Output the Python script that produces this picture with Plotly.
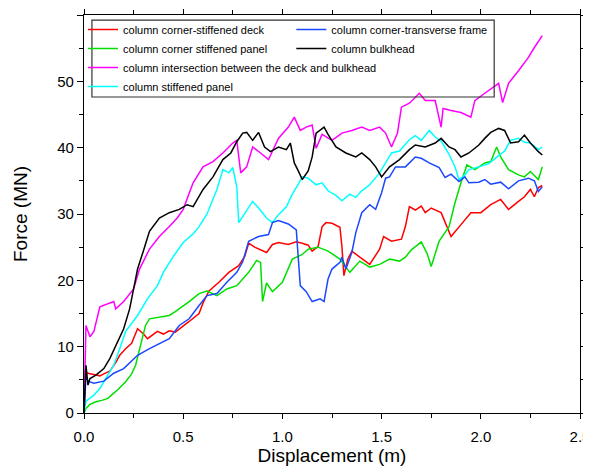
import plotly.graph_objects as go

# ---------------- data ----------------
red_x = [0, 0.005, 0.013, 0.03, 0.05, 0.08, 0.10, 0.13, 0.16, 0.18, 0.21, 0.24, 0.27, 0.30, 0.32, 0.35, 0.37, 0.40, 0.43, 0.46,
         0.48, 0.53, 0.58, 0.60, 0.63, 0.68, 0.73, 0.78, 0.81, 0.83, 0.86, 0.88, 0.92, 0.95, 0.98, 1.03, 1.07, 1.10, 1.13, 1.15,
         1.18, 1.20, 1.22, 1.25, 1.29, 1.30, 1.31, 1.33, 1.35, 1.39, 1.44, 1.49, 1.51, 1.55, 1.60, 1.62, 1.64, 1.67, 1.70, 1.72,
         1.75, 1.80, 1.84, 1.85, 1.90, 1.95, 2.00, 2.05, 2.10, 2.14, 2.19, 2.22, 2.25, 2.27, 2.29, 2.31]
red_y = [0, 6.5, 6.1, 5.9, 5.8, 5.6, 5.9, 6.3, 7.6, 8.7, 9.7, 10.5, 12.7, 11.9, 11.2, 11.8, 12.3, 11.9, 12.4, 12.2,
         12.7, 13.8, 15.0, 16.6, 18.4, 19.7, 21.2, 22.2, 23.6, 25.6, 25.0, 24.7, 24.2, 25.4, 25.7, 25.4, 25.8, 25.6, 25.3, 24.4,
         25.1, 28.1, 28.7, 28.6, 28.0, 25.1, 20.7, 23.2, 24.4, 23.5, 22.4, 24.7, 26.6, 25.9, 26.2, 28.1, 31.1, 30.6, 31.2, 30.2,
         30.9, 30.2, 27.2, 26.6, 28.4, 30.2, 30.2, 31.4, 32.2, 30.7, 31.9, 32.6, 33.7, 32.6, 34.0, 34.3]

green_x = [0, 0.01, 0.03, 0.06, 0.09, 0.12, 0.15, 0.17, 0.21, 0.24, 0.26, 0.28, 0.30, 0.31, 0.33, 0.38, 0.43, 0.46, 0.48, 0.53,
           0.58, 0.62, 0.67, 0.72, 0.77, 0.80, 0.83, 0.87, 0.89, 0.90, 0.92, 0.95, 1.00, 1.05, 1.10, 1.13, 1.18, 1.23, 1.29, 1.34,
           1.39, 1.44, 1.49, 1.54, 1.59, 1.62, 1.65, 1.70, 1.73, 1.75, 1.79, 1.84, 1.87, 1.90, 1.93, 1.97, 2.02, 2.05, 2.08, 2.10,
           2.14, 2.19, 2.22, 2.25, 2.29, 2.31]
green_y = [0, 0.7, 1.3, 1.7, 1.9, 2.2, 3.0, 3.5, 4.7, 5.9, 7.2, 9.7, 12.0, 13.2, 14.2, 14.5, 14.7, 15.3, 15.7, 16.8,
           18.0, 18.4, 17.7, 18.7, 19.2, 20.2, 21.2, 23.0, 22.7, 16.8, 19.6, 18.3, 19.7, 23.2, 23.9, 24.7, 25.0, 24.4, 23.2, 21.2,
           22.9, 22.0, 22.4, 23.2, 22.9, 23.5, 24.6, 25.8, 24.0, 22.1, 25.9, 28.1, 31.7, 34.7, 37.4, 36.7, 37.7, 37.9, 40.1, 38.6,
           36.7, 35.9, 35.6, 36.4, 35.2, 37.1]

blue_x = [0, 0.01, 0.02, 0.05, 0.10, 0.15, 0.20, 0.27, 0.33, 0.38, 0.43, 0.48, 0.53, 0.58, 0.62, 0.67, 0.72, 0.77, 0.80, 0.83,
          0.88, 0.93, 0.95, 0.98, 1.03, 1.07, 1.08, 1.09, 1.12, 1.15, 1.19, 1.21, 1.23, 1.25, 1.29, 1.30, 1.32, 1.35, 1.37, 1.40,
          1.44, 1.47, 1.50, 1.52, 1.54, 1.57, 1.62, 1.67, 1.70, 1.74, 1.79, 1.82, 1.85, 1.89, 1.92, 1.94, 1.99, 2.02, 2.05, 2.10,
          2.14, 2.19, 2.24, 2.27, 2.29, 2.31]
blue_y = [0, 5.5, 4.8, 4.5, 4.8, 6.0, 6.7, 8.7, 9.7, 10.5, 11.2, 13.2, 14.2, 16.2, 17.7, 18.0, 19.7, 21.2, 22.8, 25.9,
          26.6, 26.9, 28.7, 29.0, 28.5, 27.6, 24.0, 19.2, 18.3, 16.8, 17.2, 16.8, 20.2, 21.7, 22.7, 23.5, 21.7, 24.2, 27.2, 30.2,
          31.4, 30.7, 33.2, 35.4, 35.6, 37.1, 37.1, 38.6, 38.4, 37.7, 37.0, 35.5, 36.0, 34.9, 35.6, 34.7, 34.8, 35.2, 34.5, 34.8,
          33.8, 35.0, 35.4, 35.0, 33.4, 34.1]

black_x = [0, 0.01, 0.02, 0.03, 0.06, 0.10, 0.13, 0.16, 0.20, 0.23, 0.27, 0.30, 0.33, 0.38, 0.43, 0.48, 0.52, 0.55, 0.60, 0.65,
           0.70, 0.74, 0.77, 0.80, 0.82, 0.85, 0.88, 0.91, 0.94, 0.98, 1.02, 1.04, 1.06, 1.08, 1.10, 1.13, 1.15, 1.17, 1.21, 1.23,
           1.27, 1.32, 1.37, 1.40, 1.44, 1.47, 1.50, 1.54, 1.59, 1.64, 1.67, 1.72, 1.77, 1.80, 1.84, 1.87, 1.90, 1.94, 1.99, 2.02,
           2.05, 2.09, 2.12, 2.15, 2.19, 2.22, 2.25, 2.29, 2.31]
black_y = [0, 7.2, 4.2, 5.2, 5.7, 6.7, 8.2, 10.2, 12.7, 15.7, 21.7, 24.5, 27.4, 29.4, 30.2, 30.7, 31.4, 31.1, 33.7, 35.6,
           38.2, 39.2, 40.9, 42.2, 42.3, 41.1, 42.3, 40.1, 39.4, 40.1, 39.7, 40.7, 37.7, 36.5, 35.2, 36.5, 38.6, 42.2, 43.1, 42.0,
           40.1, 39.2, 38.6, 39.2, 38.2, 37.1, 35.6, 37.1, 38.2, 39.7, 40.4, 40.1, 40.7, 41.4, 40.1, 39.7, 38.6, 39.2, 40.4, 41.4,
           42.3, 42.9, 42.6, 40.7, 40.9, 41.9, 40.7, 39.4, 38.9]

magenta_x = [0, 0.005, 0.01, 0.03, 0.05, 0.08, 0.12, 0.15, 0.16, 0.20, 0.25, 0.28, 0.33, 0.38, 0.43, 0.47, 0.50, 0.52, 0.55, 0.60,
             0.65, 0.70, 0.75, 0.77, 0.79, 0.82, 0.85, 0.89, 0.93, 0.98, 1.03, 1.06, 1.09, 1.12, 1.15, 1.17, 1.20, 1.25, 1.30, 1.35,
             1.40, 1.44, 1.49, 1.52, 1.55, 1.58, 1.60, 1.64, 1.69, 1.72, 1.77, 1.80, 1.81, 1.85, 1.90, 1.95, 1.97, 2.02, 2.05, 2.09,
             2.11, 2.14, 2.19, 2.24, 2.27, 2.30, 2.31]
magenta_y = [0, 6.0, 13.2, 11.5, 12.3, 16.0, 16.5, 16.8, 15.7, 16.8, 18.7, 21.7, 24.7, 26.6, 28.1, 29.4, 30.7, 32.2, 34.7, 37.1,
             37.9, 39.2, 40.7, 41.1, 36.2, 37.1, 40.1, 39.2, 38.2, 41.4, 43.1, 44.6, 42.6, 43.1, 43.4, 39.9, 42.0, 41.1, 42.2, 42.6,
             43.1, 42.6, 43.1, 42.2, 40.1, 42.2, 46.1, 46.7, 48.2, 47.1, 47.1, 43.1, 45.9, 45.6, 45.3, 44.6, 47.1, 48.2, 48.9, 49.7,
             46.8, 49.7, 51.6, 53.6, 55.1, 56.6, 56.9]

cyan_x = [0, 0.01, 0.05, 0.08, 0.12, 0.15, 0.18, 0.21, 0.27, 0.32, 0.37, 0.40, 0.45, 0.50, 0.55, 0.58, 0.62, 0.67, 0.70, 0.73,
          0.75, 0.77, 0.78, 0.82, 0.85, 0.88, 0.92, 0.95, 0.98, 1.02, 1.05, 1.08, 1.10, 1.13, 1.17, 1.20, 1.23, 1.27, 1.30, 1.34,
          1.37, 1.40, 1.44, 1.49, 1.52, 1.55, 1.59, 1.64, 1.67, 1.70, 1.74, 1.77, 1.80, 1.84, 1.87, 1.89, 1.92, 1.94, 1.99, 2.04,
          2.09, 2.12, 2.15, 2.19, 2.22, 2.25, 2.29, 2.31]
cyan_y = [0, 1.8, 2.7, 3.7, 5.7, 7.2, 9.7, 12.3, 14.7, 17.2, 19.2, 21.2, 23.6, 25.7, 27.0, 28.1, 30.0, 33.7, 36.7, 36.2,
          37.0, 34.1, 28.7, 30.5, 31.9, 30.9, 29.4, 28.7, 29.9, 31.1, 33.0, 34.5, 35.6, 35.4, 34.4, 34.7, 33.5, 32.8, 32.0, 33.0,
          32.5, 33.5, 34.4, 36.2, 37.7, 39.2, 39.5, 41.2, 41.8, 41.1, 42.6, 41.6, 41.0, 39.0, 37.1, 35.2, 35.9, 36.7, 37.1, 37.6,
          38.8, 39.5, 41.1, 41.4, 40.8, 40.7, 39.7, 40.1]

x_ticks = [0.0, 0.5, 1.0, 1.5, 2.0, 2.5]
x_ticklabels = ["0.0", "0.5", "1.0", "1.5", "2.0", "2.5"]
y_ticks = [0, 10, 20, 30, 40, 50, 60]

# ---------------- figure ----------------
FONT = "Liberation Sans, Arial, sans-serif"
series = [
    ("column corner-stiffened deck", red_x, red_y, "#ff0000", "legend"),
    ("column corner stiffened panel", green_x, green_y, "#00e000", "legend"),
    ("column intersection between the deck and bulkhead", magenta_x, magenta_y, "#ff00ff", "legend"),
    ("column stiffened panel", cyan_x, cyan_y, "#00ffff", "legend"),
    ("column corner-transverse frame", blue_x, blue_y, "#1a48ff", "legend2"),
    ("column bulkhead", black_x, black_y, "#000000", "legend2"),
]

fig = go.Figure()
for name, xs, ys, col, lg in series:
    fig.add_trace(go.Scatter(x=xs, y=ys, mode="lines", name=name,
                             line=dict(color=col, width=1.5), legend=lg))

tick_style = dict(tickcolor="black", tickwidth=1.2)
axis_common = dict(showgrid=False, zeroline=False, linecolor="black", linewidth=1.3,
                   automargin=False, showline=True, mirror="ticks", **tick_style)
label_font = dict(family=FONT, size=15, color="black")

# the page body has an 8 px margin on every side, so the figure is 16 px smaller
# than the 591x474 window (this keeps the page from overflowing)
fig.update_layout(
    width=575, height=458,
    margin=dict(l=76, r=3, t=7, b=53),
    paper_bgcolor="white", plot_bgcolor="white",
    font=dict(family=FONT, color="black"),
    xaxis=dict(range=[0, 2.5], tickvals=x_ticks, ticktext=x_ticklabels,
               ticks="outside", ticklen=5, tickfont=label_font, ticklabelstandoff=5,
               ticklabeloverflow="allow",
               minor=dict(dtick=0.25, ticklen=4, ticks="outside", **tick_style),
               title=dict(text="Displacement (m)", font=dict(family=FONT, size=19), standoff=10),
               **axis_common),
    yaxis=dict(range=[0, 60], tickvals=y_ticks, ticks="outside", ticklen=6, tickfont=label_font,
               minor=dict(dtick=5, ticklen=4, ticks="outside", **tick_style),
               title=dict(text="Force (MN)", font=dict(family=FONT, size=19), standoff=24),
               **axis_common),
    legend=dict(x=-0.002, y=1.0, xanchor="left", yanchor="top", bgcolor="rgba(0,0,0,0)",
                borderwidth=0, font=dict(family=FONT, size=11), itemwidth=30,
                tracegroupgap=0),
    legend2=dict(x=0.418, y=1.0, xanchor="left", yanchor="top", bgcolor="rgba(0,0,0,0)",
                 borderwidth=0, font=dict(family=FONT, size=11), itemwidth=30,
                 tracegroupgap=0),
    shapes=[
        # legend frame
        dict(type="rect", xref="paper", yref="paper", x0=0.016, x1=0.827, y0=0.794, y1=0.987,
             line=dict(color="#333333", width=1.2), fillcolor="rgba(0,0,0,0)"),
    ],
    showlegend=True,
)

fig.write_html("out.html")
